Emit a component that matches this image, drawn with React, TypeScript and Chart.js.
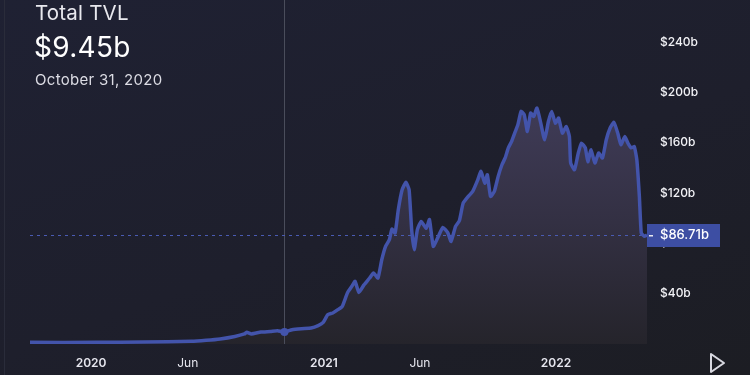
import React, { useEffect, useRef } from "react";
import { Chart, registerables } from "chart.js";

Chart.register(...registerables);

// ---- data ----
const dates: string[] = [
  "2019-09-27", "2020-01-09", "2020-03-24", "2020-06-07", "2020-06-30", "2020-07-22", "2020-08-14", "2020-08-29",
  "2020-09-02", "2020-09-09", "2020-09-24", "2020-10-09", "2020-10-20", "2020-10-31", "2020-11-12", "2020-11-27",
  "2020-12-12", "2020-12-23", "2020-12-31",
  "2021-01-07", "2021-01-15", "2021-01-23", "2021-01-30", "2021-02-07", "2021-02-14", "2021-02-19", "2021-02-25",
  "2021-03-05", "2021-03-14", "2021-03-20", "2021-03-27", "2021-04-02", "2021-04-08", "2021-04-14", "2021-04-18",
  "2021-04-23", "2021-04-28", "2021-05-04", "2021-05-10", "2021-05-15", "2021-05-19", "2021-05-23", "2021-05-28",
  "2021-06-03", "2021-06-11", "2021-06-16", "2021-06-22", "2021-06-30", "2021-07-07", "2021-07-15", "2021-07-20",
  "2021-07-27", "2021-08-02", "2021-08-08", "2021-08-16", "2021-08-23", "2021-08-31", "2021-09-05", "2021-09-11",
  "2021-09-15", "2021-09-20", "2021-09-26", "2021-10-02", "2021-10-08", "2021-10-13", "2021-10-18", "2021-10-23",
  "2021-10-28", "2021-11-02", "2021-11-07", "2021-11-12", "2021-11-17", "2021-11-22", "2021-11-27", "2021-12-02",
  "2021-12-08", "2021-12-14", "2021-12-20", "2021-12-25", "2021-12-31",
  "2022-01-05", "2022-01-11", "2022-01-17", "2022-01-22", "2022-01-24", "2022-01-30", "2022-02-05", "2022-02-10",
  "2022-02-16", "2022-02-20", "2022-02-25", "2022-03-03", "2022-03-09", "2022-03-15", "2022-03-21", "2022-03-27",
  "2022-04-02", "2022-04-08", "2022-04-13", "2022-04-19", "2022-04-24", "2022-04-29", "2022-05-04", "2022-05-08",
  "2022-05-12", "2022-05-15", "2022-05-20", "2022-05-24",
];

const tvl: number[] = [
  1.3, 1.3, 1.6, 2.1, 2.9, 4, 6, 8, 9.3, 8, 9.5, 10, 10.6, 9.45, 11.4, 12.2, 12.7, 14.6, 17.2,
  23.3, 24.7, 27.3, 30, 40.6, 45.9, 49.8, 41, 47, 52.5, 56.5, 52.5, 67, 77.7, 83, 91.4, 88.3, 106.8,
  122.7, 128.6, 122.7, 91, 75, 91, 97.5, 92, 99, 77.7, 85.6, 92.8, 88.3, 81.6, 93.6, 98, 112, 117.4,
  121.4, 130.7, 137.3, 128, 134.7, 117.4, 121.4, 133.3, 142.6, 148, 156, 161, 167.8, 174.4, 185, 182.4,
  169, 183.7, 181, 187.7, 175.7, 162.5, 177, 185, 175.7,
  179.7, 167.8, 173, 165, 144, 138.6, 151.9, 159.8, 156, 145, 154.5, 144, 151.9, 148, 162.5, 171.8,
  176.3, 167.8, 158.5, 165, 159.8, 156, 157, 146.6, 117.4, 88.3, 85.6, 86.71,
];

const xTickDates: string[] = ["2020-01-01", "2020-06-01", "2021-01-01", "2021-06-01", "2022-01-01"];
const xTickLabels: string[] = ["2020", "Jun", "2021", "Jun", "2022"];
const yTickValues: number[] = [40, 80, 120, 160, 200, 240];

const crosshairDate = "2020-10-31";
const headerTitle = "Total TVL";
const headerValue = "$9.45b";
const headerDate = "October 31, 2020";
const lastValueLabel = "$86.71b";

const dayOf = (s: string) => {
  const [y, m, d] = s.split("-").map(Number);
  return (Date.UTC(y, m - 1, d) - Date.UTC(2020, 0, 1)) / 86400000;
};

const FONT = "Inter, 'Noto Sans', sans-serif";
const LINE = "#4354ab";

export default function App() {
  const ref = useRef<HTMLCanvasElement>(null);

  useEffect(() => {
    document.body.style.margin = "0";
    const xs = dates.map(dayOf);
    const points = xs.map((x, i) => ({ x, y: tvl[i] }));
    const crossIdx = dates.indexOf(crosshairDate);
    const tickDays = xTickDates.map(dayOf);
    const lastVal = tvl[tvl.length - 1];

    const overlay = {
      id: "overlay",
      beforeDatasetsDraw(chart: any) {
        const { ctx, chartArea, scales } = chart;
        const x = Math.round(scales.x.getPixelForValue(dayOf(crosshairDate))) + 0.5;
        ctx.save();
        ctx.strokeStyle = "#4a4d5b";
        ctx.lineWidth = 1;
        ctx.beginPath();
        ctx.moveTo(x, 0);
        ctx.lineTo(x, chartArea.bottom);
        ctx.stroke();
        const y = Math.round(scales.y.getPixelForValue(lastVal)) + 0.5;
        ctx.strokeStyle = "#4a5bb3";
        ctx.setLineDash([3, 4]);
        ctx.beginPath();
        ctx.moveTo(chartArea.left, y);
        ctx.lineTo(chartArea.right, y);
        ctx.stroke();
        ctx.restore();
      },
      afterDraw(chart: any) {
        const { ctx, chartArea, scales } = chart;
        const y = scales.y.getPixelForValue(lastVal);
        const left = chartArea.right;
        ctx.save();
        ctx.fillStyle = "#3d4ea3";
        ctx.fillRect(left, Math.round(y - 11.5), 73, 23);
        ctx.fillStyle = "#e8e8f0";
        ctx.fillRect(left + 2, Math.round(y), 4, 1.5);
        ctx.font = `500 13px ${FONT}`;
        ctx.textBaseline = "middle";
        ctx.textAlign = "left";
        ctx.fillStyle = "#ffffff";
        ctx.fillText(lastValueLabel, left + 13, y + 0.5);
        ctx.restore();
      },
    };

    const chart = new Chart(ref.current!, {
      type: "line",
      data: {
        datasets: [
          {
            data: points,
            borderColor: LINE,
            borderWidth: 3.5,
            tension: 0.15,
            pointRadius: points.map((_, i) => (i === crossIdx ? 4 : 0)),
            pointBackgroundColor: LINE,
            pointBorderWidth: 0,
            fill: "origin",
            backgroundColor: (c: any) => {
              const { chart: ch } = c;
              const { ctx, chartArea } = ch;
              if (!chartArea) return "rgba(60,56,80,0.6)";
              const g = ctx.createLinearGradient(0, chartArea.top + 80, 0, chartArea.bottom);
              g.addColorStop(0, "#403c58");
              g.addColorStop(0.5, "#333043");
              g.addColorStop(1, "#25242b");
              return g;
            },
          },
        ],
      },
      options: {
        animation: false,
        responsive: false,
        devicePixelRatio: 1,
        layout: { padding: { left: 30, right: 0, top: 0, bottom: 0 } },
        plugins: {
          legend: { display: false },
          tooltip: { enabled: false },
          filler: { drawTime: "beforeDatasetsDraw" } as any,
        },
        scales: {
          x: {
            type: "linear",
            position: "bottom",
            min: xs[0],
            max: xs[xs.length - 1],
            grid: { display: false, drawTicks: false, tickLength: 0 },
            border: { display: false },
            afterFit: (s: any) => {
              s.height = 31;
            },
            afterBuildTicks: (s: any) => {
              s.ticks = tickDays.map((v) => ({ value: v }));
            },
            ticks: {
              autoSkip: false,
              maxRotation: 0,
              padding: 12,
              color: "#e6e6ee",
              font: (c: any) => {
                const i = tickDays.indexOf(c.tick?.value);
                const lbl = xTickLabels[i] || "";
                return { family: FONT, size: 12, weight: /^\d+$/.test(lbl) ? "600" : "400" } as any;
              },
              callback: (v: any) => {
                const i = tickDays.indexOf(Number(v));
                return i >= 0 ? xTickLabels[i] : "";
              },
            },
          },
          y: {
            type: "linear",
            position: "right",
            min: 0,
            max: 257.6,
            grid: { display: false, drawTicks: false, tickLength: 0 },
            border: { display: false },
            afterFit: (s: any) => {
              s.width = 103;
            },
            afterBuildTicks: (s: any) => {
              s.ticks = yTickValues.map((v) => ({ value: v }));
            },
            ticks: {
              padding: 13,
              color: "#f2f2f6",
              font: { family: FONT, size: 12, weight: "500" } as any,
              callback: (v: any) => `$${v}b`,
            },
          },
        },
      },
      plugins: [overlay],
    });

    return () => chart.destroy();
  }, []);

  return (
    <div
      style={{
        position: "relative",
        width: 750,
        height: 375,
        overflow: "hidden",
        background: "linear-gradient(160deg, #1f2133 0%, #1e1f2c 55%, #1c1d23 100%)",
        fontFamily: FONT,
      }}
    >
      <div style={{ position: "absolute", left: 4, top: 0, width: 1, height: 375, background: "#2a2c3a" }} />
      <canvas ref={ref} width={750} height={375} style={{ position: "absolute", left: 0, top: 0 }} />
      <div style={{ position: "absolute", left: 35, top: 3, fontSize: 20.5, lineHeight: 1, color: "#e8e8ee", letterSpacing: 0.2 }}>
        {headerTitle}
      </div>
      <div style={{ position: "absolute", left: 34, top: 33, fontSize: 28, lineHeight: 1, color: "#ffffff", letterSpacing: 0.3 }}>
        {headerValue}
      </div>
      <div style={{ position: "absolute", left: 35, top: 72, fontSize: 15, lineHeight: 1, color: "#dcdce4", letterSpacing: 0.3 }}>
        {headerDate}
      </div>
      <svg style={{ position: "absolute", left: 706, top: 352 }} width={22} height={22}>
        <polygon points="5,2 18,11 5,20" fill="none" stroke="#d8d8e0" strokeWidth={2} strokeLinejoin="round" />
      </svg>
    </div>
  );
}
